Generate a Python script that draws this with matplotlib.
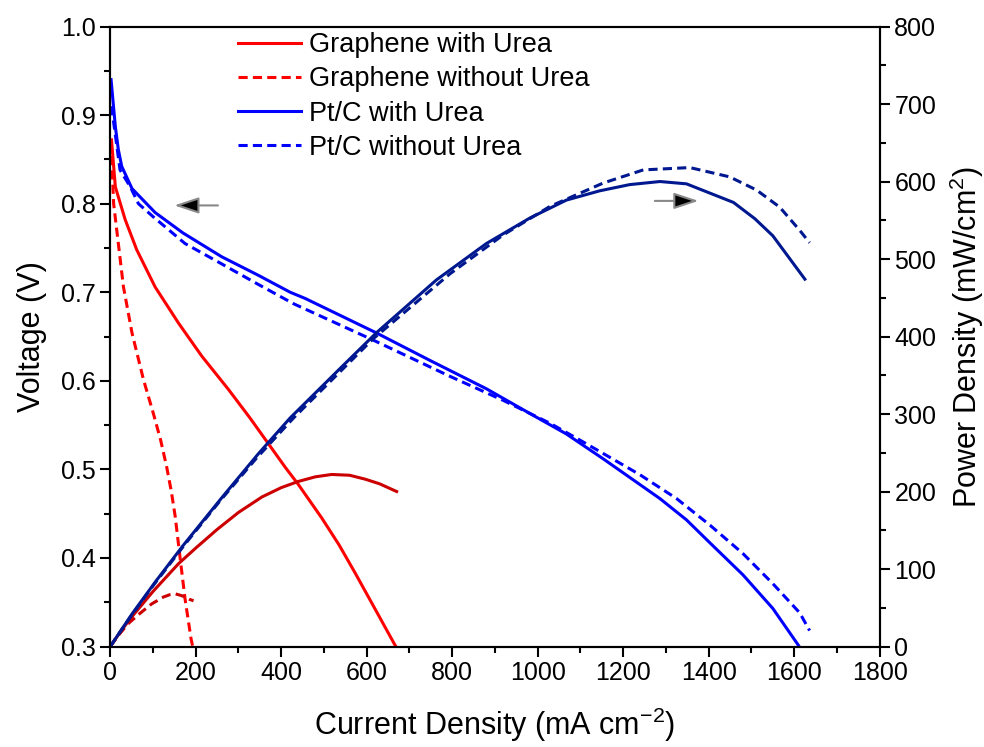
import matplotlib
matplotlib.use('Agg')
import matplotlib.pyplot as plt
from matplotlib.ticker import MultipleLocator

plt.rcParams['font.family'] = ['Liberation Sans', 'DejaVu Sans']
plt.rcParams['mathtext.fontset'] = 'custom'
plt.rcParams['mathtext.rm'] = 'Liberation Sans'

# Graphene with urea
gu_I = [3, 12, 35, 62, 105, 160, 214, 277, 327, 370, 410, 440, 495, 535, 573, 620, 668]
gu_V = [0.872, 0.819, 0.782, 0.748, 0.706, 0.665, 0.628, 0.590, 0.558, 0.529, 0.502,
        0.483, 0.445, 0.415, 0.383, 0.342, 0.300]
gu_PI = [0, 25, 50, 100, 160, 200, 250, 300, 355, 400, 440, 480, 518, 560, 596, 630, 670]
gu_P = [0, 20, 38, 71, 107, 127, 151, 173, 193, 205, 213, 219, 222, 221, 216, 210, 200]

# Graphene without urea
gn_I = [2, 4, 8, 19, 31, 51, 78, 101, 118, 132, 143, 152, 164, 175, 189, 193]
gn_V = [0.87, 0.846, 0.80, 0.755, 0.706, 0.654, 0.601, 0.563, 0.533, 0.503, 0.475,
        0.447, 0.398, 0.354, 0.309, 0.300]
gn_PI = [0, 20, 43, 70, 97, 125, 140, 152, 165, 175, 185, 195]
gn_P = [0, 15, 30, 43, 55, 64, 67, 68, 66, 64, 61, 59]

# Pt/C with urea
pu_I = [2, 12, 19, 27, 51, 105, 170, 261, 347, 421, 456, 623, 748, 880, 982, 1067,
        1153, 1286, 1348, 1403, 1480, 1550, 1609, 1625]
pu_V = [0.94, 0.887, 0.861, 0.842, 0.817, 0.790, 0.767, 0.740, 0.719, 0.700, 0.693, 0.654,
        0.623, 0.591, 0.563, 0.540, 0.512, 0.467, 0.443, 0.417, 0.381, 0.343, 0.302, 0.29]
pu_PI = [0, 51, 105, 170, 261, 347, 421, 540, 623, 763, 880, 982, 1067, 1145, 1215,
         1286, 1348, 1403, 1458, 1508, 1550, 1625]
pu_P = [0, 42, 83, 130, 192, 249, 295, 360, 405, 473, 520, 553, 576, 588, 596,
        600, 597, 585, 573, 552, 530, 474]

# Pt/C without urea
pn_I = [3, 23, 47, 66, 101, 175, 257, 342, 429, 615, 795, 919, 1029, 1099, 1153,
        1239, 1325, 1403, 1480, 1550, 1613, 1636]
pn_V = [0.91, 0.838, 0.819, 0.80, 0.785, 0.755, 0.733, 0.71, 0.687, 0.646, 0.605, 0.578,
        0.552, 0.533, 0.518, 0.494, 0.467, 0.437, 0.405, 0.371, 0.338, 0.318]
pn_PI = [0, 47, 101, 175, 257, 342, 429, 615, 795, 919, 1029, 1153, 1247, 1356,
         1449, 1512, 1566, 1613, 1636]
pn_P = [0, 38, 79, 132, 188, 243, 295, 397, 481, 531, 568, 598, 615, 618,
        606, 589, 567, 537, 521]

red = '#ff0000'
dark_red = '#cc0000'
blue = '#0000ff'
navy = '#00188f'
lw = 2.2
dash = (0, (3.0, 1.7))

fig = plt.figure(figsize=(9.84, 7.47), dpi=100)
ax1 = fig.add_axes([0.112, 0.1345, 0.782, 0.83])
ax2 = ax1.twinx()

ax1.plot(gu_I, gu_V, color=red, lw=lw, label='Graphene with Urea')
ax1.plot(gn_I, gn_V, color=red, lw=lw, ls=dash, label='Graphene without Urea')
ax1.plot(pu_I, pu_V, color=blue, lw=lw, label='Pt/C with Urea')
ax1.plot(pn_I, pn_V, color=blue, lw=lw, ls=dash, label='Pt/C without Urea')

ax2.plot(gu_PI, gu_P, color=dark_red, lw=lw)
ax2.plot(gn_PI, gn_P, color=dark_red, lw=lw, ls=dash)
ax2.plot(pu_PI, pu_P, color=navy, lw=lw)
ax2.plot(pn_PI, pn_P, color=navy, lw=lw, ls=dash)

ax1.set_xlim(0, 1800)
ax1.set_ylim(0.3, 1.0)
ax2.set_ylim(0, 800)

ax1.xaxis.set_major_locator(MultipleLocator(200))
ax1.xaxis.set_minor_locator(MultipleLocator(100))
ax1.yaxis.set_major_locator(MultipleLocator(0.1))
ax1.yaxis.set_minor_locator(MultipleLocator(0.05))
ax2.yaxis.set_major_locator(MultipleLocator(100))
ax2.yaxis.set_minor_locator(MultipleLocator(50))

for ax in (ax1, ax2):
    ax.tick_params(which='major', length=7, width=1.5, labelsize=18, direction='out')
    ax.tick_params(which='minor', length=4, width=1.5, direction='out')
    for sp in ax.spines.values():
        sp.set_linewidth(1.5)

ax1.set_xlabel('Current Density (mA cm$^{\\mathregular{-2}}$)', fontsize=22, labelpad=15)
ax1.set_ylabel('Voltage (V)', fontsize=22, labelpad=10)
ax2.set_ylabel('Power Density (mW/cm$^{\\mathregular{2}}$)', fontsize=22, labelpad=8)

# arrows pointing to the relevant axis
arrow = dict(arrowstyle='-|>,head_length=0.75,head_width=0.25',
             ec='#888888', fc='black', lw=1.5, mutation_scale=20,
             shrinkA=0, shrinkB=0)
ax1.annotate('', xy=(150, 0.798), xytext=(252, 0.798), arrowprops=arrow)
ax2.annotate('', xy=(1376, 575), xytext=(1274, 575), arrowprops=arrow)

ax1.legend(loc='upper left', bbox_to_anchor=(0.135, 1.03), frameon=False,
           fontsize=19.5, handlelength=2.3, labelspacing=0.3, handletextpad=0.3)

fig.savefig('out.png', dpi=100)
